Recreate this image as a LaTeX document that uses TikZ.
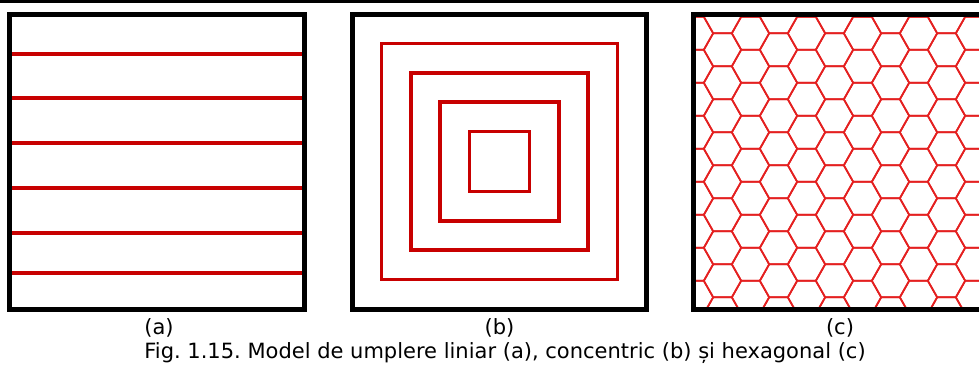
\documentclass[tikz,border=0pt]{standalone}
\usepackage{fontspec}
\setmainfont{DejaVu Sans}
\frenchspacing
\definecolor{fillred}{RGB}{200,0,0}
\definecolor{hexred}{RGB}{228,32,32}

\begin{document}
\begin{tikzpicture}[x=1pt,y=-1pt,
    frame/.style={line width=5pt,black},
    fillline/.style={line width=3.2pt,fillred},
    hexline/.style={line width=1.7pt,hexred},
    lbl/.style={font=\fontsize{21}{24}\selectfont,inner sep=0pt,anchor=base}]
  \clip (0,0) rectangle (979,367);
  \draw[line width=2.7pt] (0,1.3)--(979,1.3);
  % (a) linear
  \begin{scope}
    \foreach \yy in {54,98,143,188,233,273}
      \draw[fillline] (10,\yy)--(304,\yy);
    \draw[frame] (9.5,14) rectangle (304.5,309);
    \node[lbl] (lblA) at (159,334.5) {(a)};
  \end{scope}
  % (b) concentric
  \begin{scope}[shift={(499.5,161.5)}]
    \foreach \r in {118,88.5,59.5,30}
      \draw[fillline] (-\r,-\r) rectangle (\r,\r);
    \draw[frame] (-147,-147.5) rectangle (146.5,147.5);
    \node[lbl] (lblB) at (0,173) {(b)};
  \end{scope}
  % (c) hexagonal
  \begin{scope}
    \clip (693.5,14) rectangle (985,309);
    \foreach \i in {-1,...,10}
      \foreach \j in {-1,...,9}{
        \pgfmathsetmacro\cx{722.5+28*\i}
        \pgfmathsetmacro\cy{16.8+33*\j+16.5*mod(\i+2,2)}
        \draw[hexline] (\cx-18.67,\cy)--(\cx-9.33,\cy-16.5)--(\cx+9.33,\cy-16.5)
          --(\cx+18.67,\cy)--(\cx+9.33,\cy+16.5)--(\cx-9.33,\cy+16.5)--cycle;
      }
  \end{scope}
  \draw[frame] (693.5,14) rectangle (990,309);
  \node[lbl] (lblC) at (840,334.5) {(c)};
  \node[lbl] (caption) at (505,358)
    {Fig. 1.15. Model de umplere liniar (a), concentric (b) și hexagonal (c)};
\end{tikzpicture}
\end{document}
